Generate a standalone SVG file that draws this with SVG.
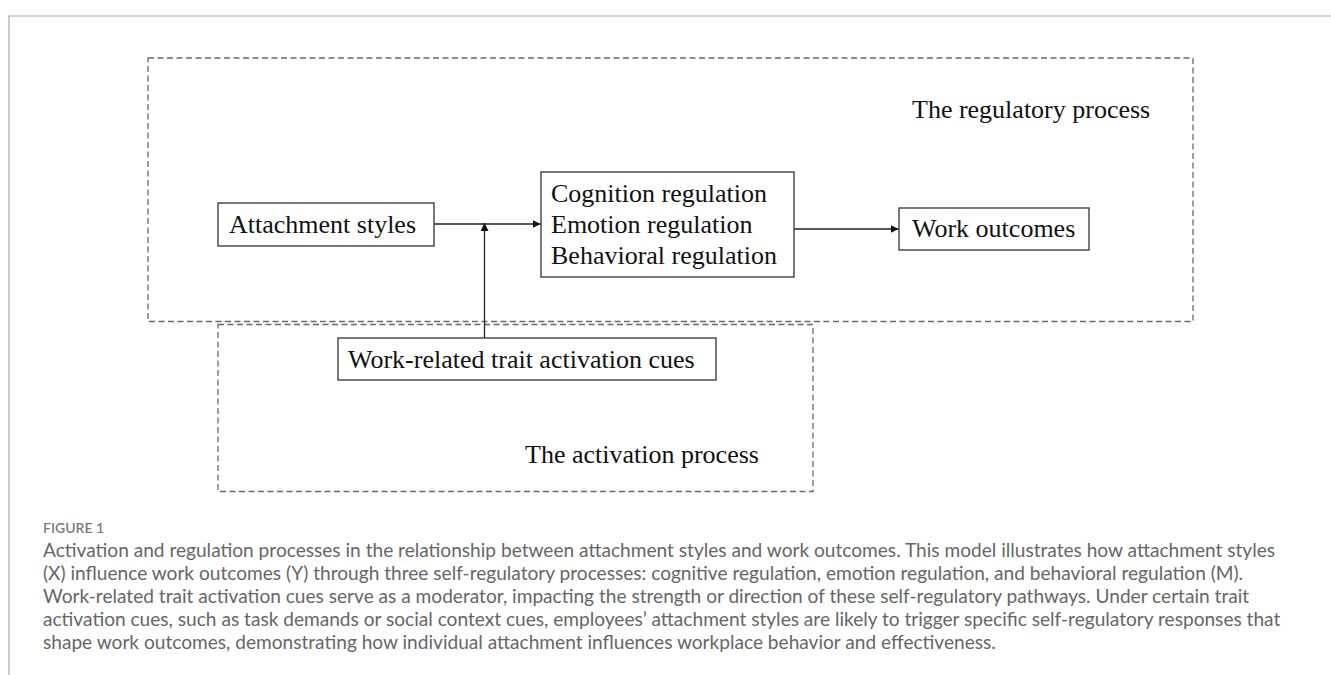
<svg xmlns="http://www.w3.org/2000/svg" width="1331" height="675" viewBox="0 0 1331 675">
<style>
.bg{fill:#fff}
.frame{stroke:#a8a8a8;stroke-width:1.2;fill:none}
.dash{fill:none;stroke:#6a6a6a;stroke-width:1.3;stroke-dasharray:6 3.5}
.box{fill:#fff;stroke:#333;stroke-width:1.3}
.lbl{font-family:"Liberation Serif","Times New Roman",serif;font-size:26px;fill:#111}
.conn{stroke:#222;stroke-width:1.3;fill:none}
.fig{font-family:Lato,"Open Sans",sans-serif;font-size:14px;fill:#7a7a7a;font-weight:600}
.cap{font-family:Lato,"Open Sans",sans-serif;font-size:19.1px;fill:#666}
</style>
<defs>
<marker id="arr" viewBox="0 0 10 10" refX="10" refY="5" markerWidth="8" markerHeight="8" markerUnits="userSpaceOnUse" orient="auto">
<path d="M0,0 L10,5 L0,10 z" fill="#111"/>
</marker>
</defs>
<rect class="bg" x="0" y="0" width="1331" height="675"/>
<path class="frame" d="M1331,16 H9 V675"/>

<g id="regulatory-process">
<rect class="dash" x="148" y="58" width="1045" height="263.5"/>
<text class="lbl" x="912" y="118">The regulatory process</text>
</g>
<g id="activation-process">
<rect class="dash" x="218" y="324.5" width="595" height="167"/>
<text class="lbl" x="525" y="463">The activation process</text>
</g>

<g id="connectors">
<line class="conn" x1="434" y1="224" x2="540.5" y2="224" marker-end="url(#arr)"/>
<line class="conn" x1="794" y1="229" x2="898.5" y2="229" marker-end="url(#arr)"/>
<line class="conn" x1="484.5" y1="338" x2="484.5" y2="223" marker-end="url(#arr)"/>
</g>

<g id="attachment-styles">
<rect class="box" x="218" y="203" width="216" height="43"/>
<text class="lbl" x="229" y="233">Attachment styles</text>
</g>
<g id="regulation">
<rect class="box" x="541" y="172" width="253" height="105"/>
<text class="lbl" x="551" y="202">Cognition regulation</text>
<text class="lbl" x="551" y="233">Emotion regulation</text>
<text class="lbl" x="551" y="264">Behavioral regulation</text>
</g>
<g id="work-outcomes">
<rect class="box" x="899" y="208" width="190" height="42"/>
<text class="lbl" x="912" y="237">Work outcomes</text>
</g>
<g id="trait-activation-cues">
<rect class="box" x="338" y="338" width="378" height="42"/>
<text class="lbl" x="348" y="368">Work-related trait activation cues</text>
</g>

<g id="caption">
<text class="fig" x="43" y="533">FIGURE 1</text>
<text class="cap" x="43" y="557">Activation and regulation processes in the relationship between attachment styles and work outcomes. This model illustrates how attachment styles</text>
<text class="cap" x="43" y="580">(X) influence work outcomes (Y) through three self-regulatory processes: cognitive regulation, emotion regulation, and behavioral regulation (M).</text>
<text class="cap" x="43" y="603">Work-related trait activation cues serve as a moderator, impacting the strength or direction of these self-regulatory pathways. Under certain trait</text>
<text class="cap" x="43" y="626">activation cues, such as task demands or social context cues, employees’ attachment styles are likely to trigger specific self-regulatory responses that</text>
<text class="cap" x="43" y="649">shape work outcomes, demonstrating how individual attachment influences workplace behavior and effectiveness.</text>
</g>
</svg>
